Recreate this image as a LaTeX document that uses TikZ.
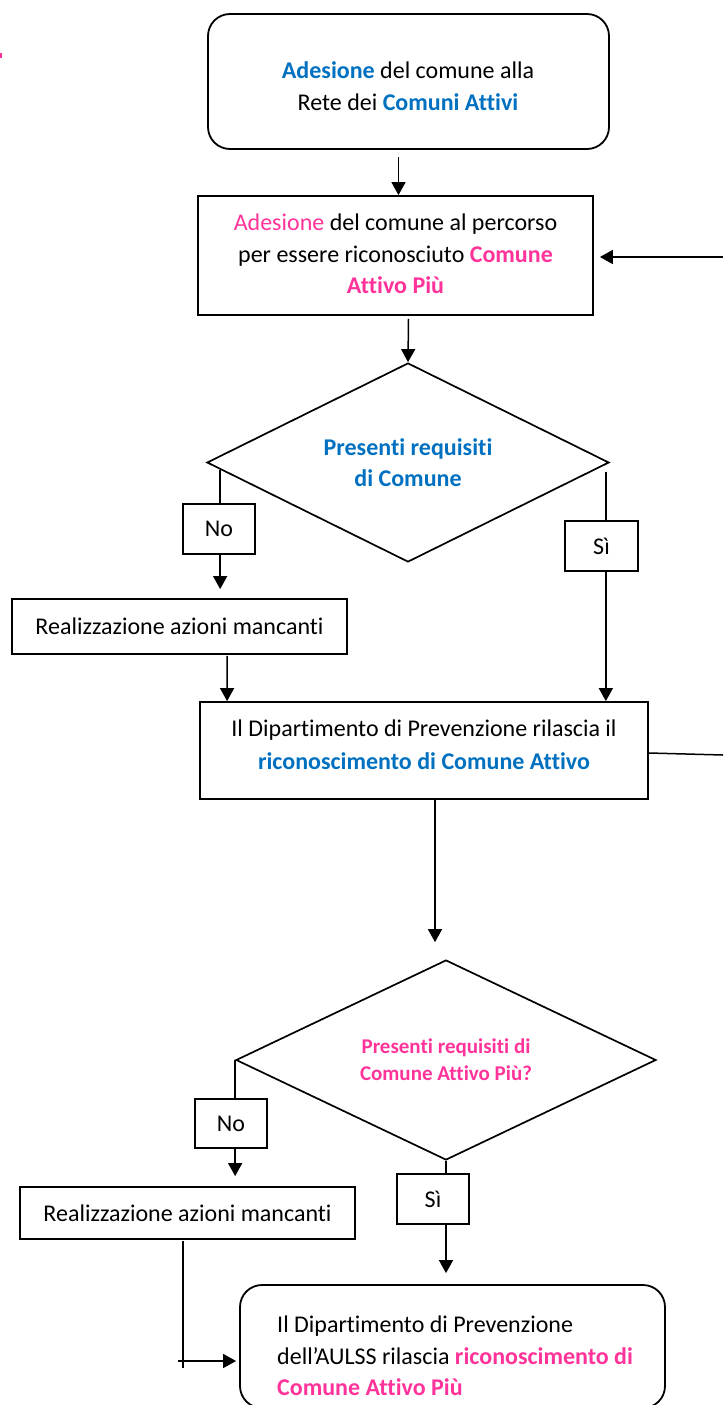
\documentclass[tikz,border=0pt]{standalone}
\usepackage{fontspec}
\setmainfont{Carlito}[Ligatures=NoCommon]
\usetikzlibrary{shapes.geometric,arrows.meta,calc}
\definecolor{cblue}{HTML}{0070C0}
\definecolor{cpink}{HTML}{FF3399}
\begin{document}
\begin{tikzpicture}[x=1pt,y=-1pt,
  txt/.style={font=\fontsize{24}{31.5}\selectfont,inner sep=0pt},
  box/.style={draw,line width=1.8pt,inner sep=0pt,txt},
  rbox/.style={box,rounded corners=22pt},
  dia/.style={draw,line width=1.7pt,diamond,aspect=2,inner sep=0pt,align=center},
  conn/.style={line width=1.5pt},
  arr/.style={conn,-{Triangle[length=13pt,width=14pt]}}]
\useasboundingbox (0,0) rectangle (723,1405);
\fill[cpink] (0,53) rectangle (2,58);
% top rounded box
\node[rbox,minimum width=401pt,minimum height=135pt] (b1) at (408.5,81.5) {};
\node[txt,align=center] (t1) at (408,86) {{\color{cblue}\bfseries Adesione} del comune alla\\Rete dei {\color{cblue}\bfseries Comuni Attivi}};
% second box
\node[box,minimum width=395pt,minimum height=119pt] (b2) at (395.5,255.5) {};
\node[txt,align=center] (t2) at (395.5,254) {{\color{cpink}Adesione} del comune al percorso\\per essere riconosciuto {\color{cpink}\bfseries Comune}\\{\color{cpink}\bfseries Attivo Più}};
% diamond 1
\node[dia,minimum width=402pt,minimum height=199pt,text=cblue,font=\fontsize{24}{31.5}\selectfont\bfseries] (d1) at (408,462.5) {Presenti requisiti\\di Comune};
\node[box,minimum width=72pt,minimum height=50pt] (no1) at (219,529) {No};
\node[box,minimum width=73pt,minimum height=50pt] (si1) at (601.5,546) {Sì};
\node[box,minimum width=335pt,minimum height=55pt] (r1) at (179.5,626.5) {Realizzazione azioni mancanti};
% box 4
\node[box,minimum width=448pt,minimum height=97pt] (b4) at (424,750.5) {};
\node[txt,align=center,font=\fontsize{24}{33}\selectfont] (t4) at (424,745) {Il Dipartimento di Prevenzione rilascia il\\{\color{cblue}\bfseries riconoscimento di Comune Attivo}};
% diamond 2
\node[dia,minimum width=420pt,minimum height=200pt,text=cpink,font=\fontsize{21}{27}\selectfont\bfseries] (d2) at (446,1060) {Presenti requisiti di\\Comune Attivo Più?};
\node[box,minimum width=72pt,minimum height=49pt] (no2) at (231,1123.5) {No};
\node[box,minimum width=72pt,minimum height=50pt] (si2) at (433,1199) {Sì};
\node[box,minimum width=335pt,minimum height=52pt] (r2) at (187.5,1213) {Realizzazione azioni mancanti};
% final box
\node[rbox,minimum width=425pt,minimum height=123pt] (fin) at (452.5,1346.5) {};
\node[txt,align=left,anchor=west] (ft) at (277,1356) {Il Dipartimento di Prevenzione\\dell’AULSS rilascia {\color{cpink}\bfseries riconoscimento di}\\{\color{cpink}\bfseries Comune Attivo Più}};
% helper coordinates
\coordinate (fbtop) at (723,257);
\coordinate (fbbot) at (723,755);
\coordinate (d1n) at ($(d1.west)+(14,7.5)$);
\coordinate (d1s) at ($(d1.east)+(-4,9)$);
\coordinate (lb) at ($(r2.south)+(-4.5,1)$);
\coordinate (lbend) at (183,1368);
\coordinate (ha) at (178,1361);
% connectors
\draw[arr] ($(b1.south)+(-10,7)$) -- ($(b2.north)+(3,0)$);
\draw[arr] (fbtop) -- ($(b2.east)+(6,1.5)$);
\draw[arr] ($(b2.south)+(13,3)$) -- (d1.north);
\draw[conn] (d1n) -- (d1n |- no1.north);
\draw[arr] (no1.south -| d1n) -- ($(r1.north -| d1n)+(0,-9)$);
\draw[conn] (d1s) -- (d1s |- si1.north);
\draw[arr] (si1.south -| d1s) -- (b4.north -| d1s);
\draw[arr] ($(r1.south)+(47.5,1)$) -- ($(b4.north west)+(28,0)$);
\draw[conn] ($(b4.east)+(0,2.5)$) -- (fbbot);
\draw[arr] ($(b4.south)+(11,0)$) -- ($(d2.north)+(-11,-17)$);
\draw[conn] (d2.west) -- (d2.west |- no2.north);
\draw[arr] (no2.south -| d2.west) -- ($(r2.north -| d2.west)+(0,-10)$);
\draw[conn] (d2.south) -- (d2.south |- si2.north);
\draw[arr] (si2.south -| d2.south) -- ($(fin.north -| d2.south)+(0,-11)$);
\draw[conn] (lb) -- (lbend);
\draw[arr] (ha) -- ($(fin.west |- ha)+(-3,0)$);
\end{tikzpicture}
\end{document}
